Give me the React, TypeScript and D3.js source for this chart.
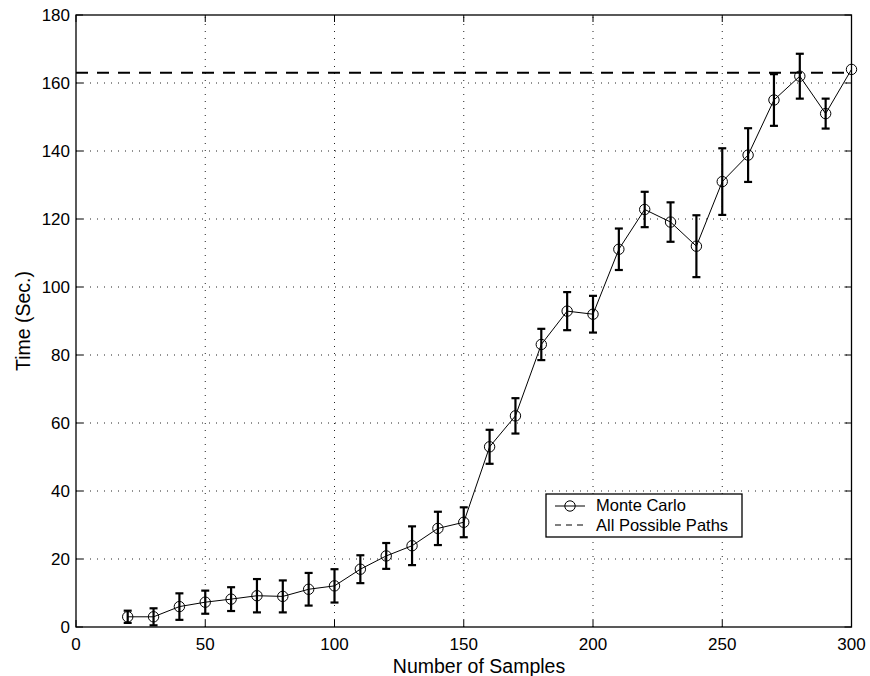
import React from "react";
import * as d3 from "d3";

// Monte Carlo run time vs. number of samples
const samples = [20, 30, 40, 50, 60, 70, 80, 90, 100, 110, 120, 130, 140, 150, 160, 170, 180, 190, 200, 210, 220, 230, 240, 250, 260, 270, 280, 290, 300];
const times = [3, 3, 6, 7.3, 8.2, 9.2, 9, 11.1, 12.1, 17, 20.9, 23.9, 29, 30.8, 53, 62.1, 83.1, 92.9, 92, 111.1, 122.8, 119.1, 112, 131, 138.8, 155, 162, 151, 164];
const errors = [1.8, 2.5, 3.9, 3.4, 3.5, 4.9, 4.7, 4.8, 4.9, 4.1, 3.8, 5.7, 4.9, 4.4, 5, 5.2, 4.6, 5.6, 5.4, 6.1, 5.2, 5.8, 9.1, 9.8, 7.9, 7.6, 6.6, 4.4, 0];
const allPathsTime = 163;

const xTicks = [0, 50, 100, 150, 200, 250, 300];
const yTicks = [0, 20, 40, 60, 80, 100, 120, 140, 160, 180];

const xTitle = "Number of Samples";
const yTitle = "Time (Sec.)";
const legendLabels = ["Monte Carlo", "All Possible Paths"];

const W = 870;
const H = 676;
const left = 76;
const right = 851.5;
const top = 15;
const bottom = 627;
const FONT = "'Liberation Sans', Arial, Helvetica, sans-serif";

export default function App() {
  const x = d3.scaleLinear().domain([0, 300]).range([left, right]);
  const y = d3.scaleLinear().domain([0, 180]).range([bottom, top]);
  const line = d3
    .line<number>()
    .x((_, i) => x(samples[i]))
    .y((d) => y(d));

  const tickLen = 7;
  const cap = 4;

  return (
    <svg
      width={W}
      height={H}
      style={{ position: "absolute", left: 0, top: 0, background: "#fff" }}
      fontFamily={FONT}
    >
      <rect x={0} y={0} width={W} height={H} fill="#fff" />
      {/* grid */}
      <g stroke="#222" strokeWidth={1} strokeDasharray="1 6">
        {xTicks.slice(1, -1).map((t) => (
          <line key={"gx" + t} x1={x(t)} x2={x(t)} y1={bottom} y2={top} />
        ))}
        {yTicks.slice(1, -1).map((t) => (
          <line key={"gy" + t} x1={left} x2={right} y1={y(t)} y2={y(t)} />
        ))}
      </g>
      {/* ticks on all sides */}
      <g stroke="#000" strokeWidth={1}>
        {xTicks.map((t) => (
          <g key={"tx" + t}>
            <line x1={x(t)} x2={x(t)} y1={bottom} y2={bottom - tickLen} />
            <line x1={x(t)} x2={x(t)} y1={top} y2={top + tickLen} />
          </g>
        ))}
        {yTicks.map((t) => (
          <g key={"ty" + t}>
            <line x1={left} x2={left + tickLen} y1={y(t)} y2={y(t)} />
            <line x1={right} x2={right - tickLen} y1={y(t)} y2={y(t)} />
          </g>
        ))}
      </g>
      {/* all possible paths reference */}
      <line
        x1={left}
        x2={right}
        y1={y(allPathsTime)}
        y2={y(allPathsTime)}
        stroke="#000"
        strokeWidth={2}
        strokeDasharray="12 9"
      />
      {/* monte carlo series */}
      <path d={line(times) || ""} fill="none" stroke="#000" strokeWidth={1} />
      <g stroke="#000" strokeWidth={2.2}>
        {samples.map((s, i) =>
          errors[i] > 0 ? (
            <g key={"e" + s}>
              <line x1={x(s)} x2={x(s)} y1={y(times[i] - errors[i])} y2={y(times[i] + errors[i])} />
              <line x1={x(s) - cap} x2={x(s) + cap} y1={y(times[i] - errors[i])} y2={y(times[i] - errors[i])} />
              <line x1={x(s) - cap} x2={x(s) + cap} y1={y(times[i] + errors[i])} y2={y(times[i] + errors[i])} />
            </g>
          ) : null
        )}
      </g>
      <g fill="none" stroke="#000" strokeWidth={1}>
        {samples.map((s, i) => (
          <circle key={"m" + s} cx={x(s)} cy={y(times[i])} r={5.2} />
        ))}
      </g>
      {/* frame */}
      <rect x={left} y={top} width={right - left} height={bottom - top} fill="none" stroke="#000" strokeWidth={1.3} />
      {/* tick labels */}
      <g fontSize={17} fill="#000">
        {xTicks.map((t) => (
          <text key={"lx" + t} x={x(t)} y={649.5} textAnchor="middle">
            {t}
          </text>
        ))}
        {yTicks.map((t) => (
          <text key={"ly" + t} x={70} y={y(t) + 6} textAnchor="end">
            {t}
          </text>
        ))}
      </g>
      {/* axis titles */}
      <text x={479} y={672.5} fontSize={19.5} textAnchor="middle" fill="#000">
        {xTitle}
      </text>
      <text
        transform={`translate(30, ${(top + bottom) / 2}) rotate(-90)`}
        fontSize={19.5}
        textAnchor="middle"
        fill="#000"
      >
        {yTitle}
      </text>
      {/* legend */}
      <g>
        <rect x={546} y={494} width={196} height={43} fill="#fff" stroke="#000" strokeWidth={1.3} />
        <line x1={555} x2={585} y1={506} y2={506} stroke="#000" strokeWidth={1} />
        <circle cx={570} cy={506} r={5.2} fill="none" stroke="#000" strokeWidth={1} />
        <line x1={555} x2={585} y1={525} y2={525} stroke="#000" strokeWidth={1} strokeDasharray="6 5" />
        <text x={596} y={511} fontSize={16.5} fill="#000">
          {legendLabels[0]}
        </text>
        <text x={596} y={531} fontSize={16.5} fill="#000">
          {legendLabels[1]}
        </text>
      </g>
    </svg>
  );
}
